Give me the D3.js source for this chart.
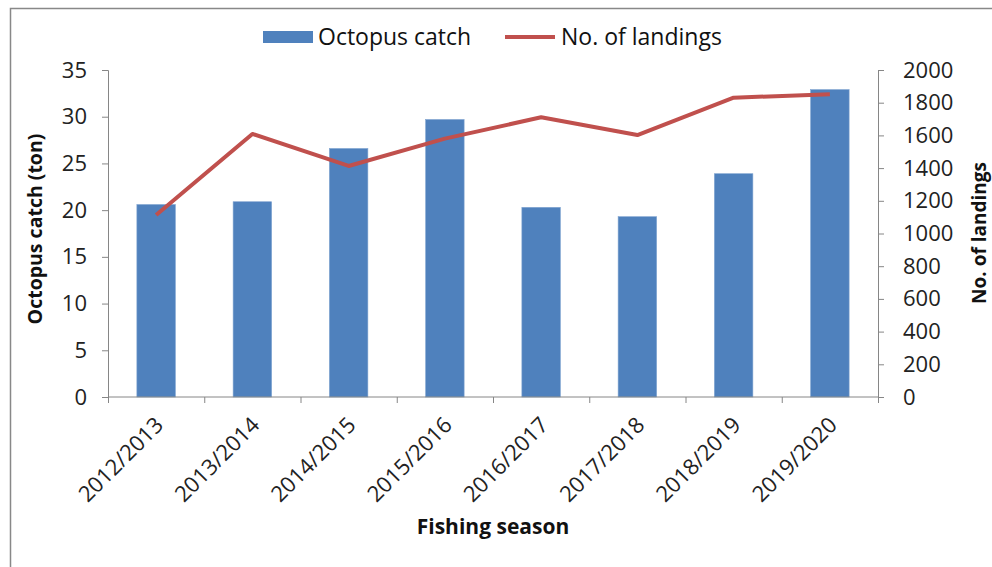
<!DOCTYPE html>
<html><head><meta charset="utf-8">
<script src="https://cdn.jsdelivr.net/npm/d3@7"></script>
<style>body{margin:0;background:#fff;}svg{display:block;font-family:"Open Sans",sans-serif;}</style>
</head><body>
<svg id="c" width="992" height="567"></svg>
<script>
const seasons = ["2012/2013","2013/2014","2014/2015","2015/2016","2016/2017","2017/2018","2018/2019","2019/2020"];
const catchTon = [20.6, 20.9, 26.6, 29.7, 20.3, 19.3, 23.9, 32.9];
const landings = [1113, 1609, 1413, 1580, 1711, 1602, 1831, 1851];
const leftTicks = [0,5,10,15,20,25,30,35];
const rightTicks = [0,200,400,600,800,1000,1200,1400,1600,1800,2000];

const svg = d3.select("#c");
const L = 108, R = 878, T = 70, B = 397;
const axisColor = "#868686";
const barColor = "#4F81BD", lineColor = "#C0504D";
const FONT = "'Open Sans',sans-serif";

svg.append("rect").attr("x",10.5).attr("y",8.5).attr("width",1000).attr("height",600)
  .attr("fill","none").attr("stroke","#888").attr("stroke-width",1.5);

const x = d3.scaleBand().domain(seasons).range([L,R]).paddingInner(0.6).paddingOuter(0.3);
const y = d3.scaleLinear().domain([0,35]).range([B,T]);
const y2 = d3.scaleLinear().domain([0,2000]).range([B,T]);

// bars
svg.append("g").selectAll("rect").data(seasons).join("rect")
  .attr("x",d=>x(d)).attr("width",x.bandwidth())
  .attr("y",(d,i)=>y(catchTon[i])).attr("height",(d,i)=>B-y(catchTon[i]))
  .attr("fill",barColor).attr("stroke","#7fa3d0").attr("stroke-width",0.6);

// left axis
const gl = svg.append("g").attr("transform",`translate(${L},0)`)
  .call(d3.axisLeft(y).tickValues(leftTicks).tickSize(6).tickPadding(15));
// right axis
const gr = svg.append("g").attr("transform",`translate(${R},0)`)
  .call(d3.axisRight(y2).tickValues(rightTicks).tickFormat(d3.format("d")).tickSize(6).tickPadding(19));
// x axis with boundary ticks
const bounds = d3.range(seasons.length+1);
const xb = d3.scaleLinear().domain([0,seasons.length]).range([L,R]);
const gx = svg.append("g").attr("transform",`translate(0,${B})`)
  .call(d3.axisBottom(xb).tickValues(bounds).tickSize(6).tickFormat(""));
[gl,gr,gx].forEach(g=>{
  g.select(".domain").attr("stroke",axisColor);
  g.selectAll(".tick line").attr("stroke",axisColor);
  g.selectAll("text").attr("font-size",22).attr("fill","#222").attr("font-family",FONT);
});
gx.select(".domain").attr("d",`M${L},0H${R}`);

// x labels
svg.append("g").selectAll("text").data(seasons).join("text")
  .attr("transform",d=>`translate(${x(d)+x.bandwidth()/2+3},${B+24}) rotate(-45)`)
  .attr("text-anchor","end").attr("dy","0.35em")
  .attr("font-size",22).attr("fill","#222").text(d=>d);

// line
const line = d3.line().x((d,i)=>x(seasons[i])+x.bandwidth()/2).y(d=>y2(d));
svg.append("path").datum(landings).attr("d",line)
  .attr("fill","none").attr("stroke",lineColor).attr("stroke-width",4).attr("stroke-linejoin","round");

// axis titles
svg.append("text").attr("x",493).attr("y",534).attr("text-anchor","middle")
  .attr("font-size",21).attr("font-weight","bold").attr("fill","#111").text("Fishing season");
svg.append("text").attr("transform","translate(42,229) rotate(-90)").attr("text-anchor","middle")
  .attr("font-size",19.5).attr("font-weight","bold").attr("fill","#111").text("Octopus catch (ton)");
svg.append("text").attr("transform","translate(986,233) rotate(-90)").attr("text-anchor","middle")
  .attr("font-size",19).attr("font-weight","bold").attr("fill","#111").text("No. of landings");

// legend
const lg = svg.append("g");
lg.append("rect").attr("x",263).attr("y",31).attr("width",50).attr("height",12).attr("fill",barColor);
lg.append("text").attr("x",318).attr("y",45).attr("font-size",23).attr("fill","#111").text("Octopus catch");
lg.append("line").attr("x1",505).attr("x2",555).attr("y1",37).attr("y2",37).attr("stroke",lineColor).attr("stroke-width",4);
lg.append("text").attr("x",561).attr("y",45).attr("font-size",23).attr("fill","#111").text("No. of landings");
</script>
</body></html>
